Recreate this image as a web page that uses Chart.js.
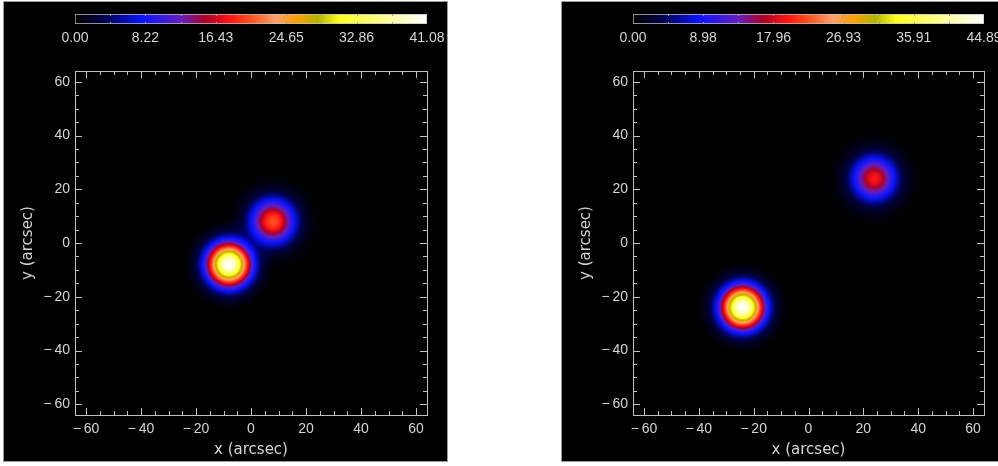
<!DOCTYPE html>
<html>
<head>
<meta charset="utf-8">
<script src="https://cdn.jsdelivr.net/npm/chart.js@4/dist/chart.umd.min.js"></script>
<style>
  body { margin: 0; width: 998px; height: 466px; overflow: hidden; background: #fff; position: relative; }
  .panel { position: absolute; top: 1px; height: 459px; background: #000; border: 1px solid #9a9a9a; }
  canvas { position: absolute; top: 0; }
</style>
</head>
<body>
<div class="panel" style="left:3px; width:443px;"></div>
<div class="panel" style="left:561px; width:460px;"></div>
<canvas id="map1" width="499" height="466" style="left:0"></canvas>
<canvas id="map2" width="520" height="466" style="left:499px"></canvas>
<canvas id="bar1" width="499" height="60" style="left:0"></canvas>
<canvas id="bar2" width="520" height="60" style="left:499px"></canvas>
<script>
// 축 눈금 (arcsec)
const axisTicks = [-60, -40, -20, 0, 20, 40, 60];
const axisMin = -64, axisMax = 64;

// 왼쪽 그림: 광원 위치, 최대값, 폭(sigma, arcsec)
const srcX1 = [-8, 8];
const srcY1 = [-8, 8];
const peak1 = [41.08, 20.5];
const sigma1 = [5.3, 5.6];
const barTicks1 = [0.00, 8.22, 16.43, 24.65, 32.86, 41.08];

// 오른쪽 그림
const srcX2 = [-24, 24];
const srcY2 = [-24, 24];
const peak2 = [44.89, 19.7];
const sigma2 = [5.3, 5.6];
const barTicks2 = [0.00, 8.98, 17.96, 26.93, 35.91, 44.89];

// 컬러 테이블 (black - blue - red - yellow - white)
const cmapStops = [
  [0.00, [0, 0, 0]],
  [0.08, [0, 0, 70]],
  [0.19, [10, 20, 255]],
  [0.30, [100, 30, 190]],
  [0.37, [170, 0, 40]],
  [0.44, [255, 20, 20]],
  [0.50, [255, 80, 30]],
  [0.57, [255, 160, 110]],
  [0.63, [255, 160, 0]],
  [0.69, [180, 180, 0]],
  [0.75, [255, 255, 30]],
  [0.87, [255, 255, 140]],
  [1.00, [255, 255, 255]]
];

const textColor = '#d4d4d4';
const lineColor = '#c0c0c0';
const tickFont = { family: 'Liberation Sans', size: 14 };
const titleFont = { family: 'DejaVu Sans', size: 15 };

function cmap(f) {
  f = Math.max(0, Math.min(1, f));
  for (let i = 1; i < cmapStops.length; i++) {
    const [f1, c1] = cmapStops[i];
    const [f0, c0] = cmapStops[i - 1];
    if (f <= f1) {
      const t = (f - f0) / (f1 - f0);
      const c = c0.map((v, k) => Math.round(v + (c1[k] - v) * t));
      return 'rgb(' + c.join(',') + ')';
    }
  }
  return 'rgb(255,255,255)';
}

function fmt(v) {
  return v < 0 ? '\u2212\u2009' + Math.abs(v) : String(v);
}

function pxPerUnit(scale) {
  return Math.abs(scale.getPixelForValue(1) - scale.getPixelForValue(0));
}

// 박스 테두리와 안쪽 눈금
const frame = {
  id: 'frame',
  beforeDatasetsDraw(chart) {
    chart.ctx.save();
    chart.ctx.globalCompositeOperation = 'lighter';
  },
  afterDatasetsDraw(chart) {
    chart.ctx.restore();
  },
  afterDraw(chart) {
    const { ctx, chartArea: a, scales: { x, y } } = chart;
    ctx.save();
    ctx.strokeStyle = lineColor;
    ctx.lineWidth = 1;
    ctx.strokeRect(Math.round(a.left) + 0.5, Math.round(a.top) + 0.5,
      Math.round(a.right - a.left), Math.round(a.bottom - a.top));
    ctx.beginPath();
    for (let v = -60; v <= 60; v += 5) {
      const len = v % 20 === 0 ? 7 : 4;
      const px = Math.round(x.getPixelForValue(v)) + 0.5;
      ctx.moveTo(px, a.bottom); ctx.lineTo(px, a.bottom - len);
      ctx.moveTo(px, a.top); ctx.lineTo(px, a.top + len);
      const py = Math.round(y.getPixelForValue(v)) + 0.5;
      ctx.moveTo(a.left, py); ctx.lineTo(a.left + len, py);
      ctx.moveTo(a.right, py); ctx.lineTo(a.right - len, py);
    }
    ctx.stroke();
    ctx.restore();
  }
};

function makeMap(id, xs, ys, peaks, sigmas, vmax, padLeft, padRight) {
  const pts = xs.map((x, i) => ({ x: x, y: ys[i], peak: peaks[i], sigma: sigmas[i] }));
  const radius = (c) => {
    const s = c.chart.scales.x;
    if (!s || !c.raw) return 0;
    const r = 3 * c.raw.sigma * pxPerUnit(s);
    return isFinite(r) ? r : 0;
  };
  new Chart(document.getElementById(id), {
    type: 'scatter',
    data: {
      datasets: [{
        data: pts,
        borderWidth: 0,
        pointRadius: radius,
        pointHoverRadius: radius,
        backgroundColor: (c) => {
          const chart = c.chart;
          if (!chart.chartArea || !c.raw) return 'black';
          const cx = chart.scales.x.getPixelForValue(c.raw.x);
          const cy = chart.scales.y.getPixelForValue(c.raw.y);
          const R = radius(c);
          if (!isFinite(cx) || !isFinite(cy) || R <= 0) return 'black';
          const g = chart.ctx.createRadialGradient(cx, cy, 0, cx, cy, R);
          const n = 40;
          for (let k = 0; k <= n; k++) {
            const t = k / n;
            const v = c.raw.peak * Math.exp(-(3 * t) * (3 * t) / 2);
            g.addColorStop(t, cmap(v / vmax));
          }
          return g;
        }
      }]
    },
    options: {
      responsive: false,
      animation: false,
      events: [],
      layout: { padding: { left: padLeft, right: padRight, top: 71, bottom: 0 } },
      plugins: { legend: { display: false }, tooltip: { enabled: false } },
      scales: {
        x: {
          type: 'linear', min: axisMin, max: axisMax,
          grid: { display: false, drawTicks: false }, border: { display: false },
          afterBuildTicks: (s) => { s.ticks = axisTicks.map(v => ({ value: v })); },
          afterFit: (s) => { s.height = 51; },
          ticks: { color: textColor, font: tickFont, padding: 6, maxRotation: 0, callback: fmt },
          title: { display: true, text: 'x (arcsec)', color: textColor, font: titleFont, padding: { top: 0, bottom: 7 } }
        },
        y: {
          type: 'linear', min: axisMin, max: axisMax,
          grid: { display: false, drawTicks: false }, border: { display: false },
          afterBuildTicks: (s) => { s.ticks = axisTicks.map(v => ({ value: v })); },
          afterFit: (s) => { s.width = 75; },
          ticks: { color: textColor, font: tickFont, padding: 5, callback: fmt },
          title: { display: true, text: 'y (arcsec)', color: textColor, font: titleFont, padding: { top: 19, bottom: 0 } }
        }
      }
    },
    plugins: [frame]
  });
}

// 컬러바 눈금
const barTicksPlugin = {
  id: 'barTicks',
  afterDraw(chart) {
    const { ctx, chartArea: a, scales: { x } } = chart;
    const vmax = x.max;
    ctx.save();
    ctx.strokeStyle = '#9a9a9a';
    ctx.lineWidth = 1;
    ctx.beginPath();
    for (let i = 1; i < 10; i++) {
      const px = Math.round(x.getPixelForValue(vmax * i / 10)) + 0.5;
      ctx.moveTo(px, a.top); ctx.lineTo(px, a.top + 2);
      ctx.moveTo(px, a.bottom); ctx.lineTo(px, a.bottom - 2);
    }
    ctx.stroke();
    ctx.restore();
  }
};

function makeBar(id, ticks, padLeft, padRight) {
  const vmax = ticks[ticks.length - 1];
  new Chart(document.getElementById(id), {
    type: 'bar',
    data: {
      labels: [''],
      datasets: [{
        data: [[0, vmax]],
        barPercentage: 1,
        categoryPercentage: 1,
        borderColor: lineColor,
        borderWidth: 1,
        borderSkipped: false,
        backgroundColor: (c) => {
          const chart = c.chart;
          if (!chart.chartArea) return 'black';
          const x0 = chart.scales.x.getPixelForValue(0);
          const x1 = chart.scales.x.getPixelForValue(vmax);
          const g = chart.ctx.createLinearGradient(x0, 0, x1, 0);
          cmapStops.forEach(([f, col]) => g.addColorStop(f, 'rgb(' + col.join(',') + ')'));
          return g;
        }
      }]
    },
    options: {
      indexAxis: 'y',
      responsive: false,
      animation: false,
      events: [],
      layout: { padding: { left: padLeft, right: padRight, top: 14, bottom: 0 } },
      plugins: { legend: { display: false }, tooltip: { enabled: false } },
      scales: {
        y: { display: false },
        x: {
          type: 'linear', min: 0, max: vmax,
          grid: { display: false, drawTicks: false }, border: { display: false },
          afterBuildTicks: (s) => { s.ticks = ticks.map(v => ({ value: v })); },
          afterFit: (s) => { s.height = 36; },
          ticks: { color: textColor, font: tickFont, padding: 6, maxRotation: 0, autoSkip: false,
            callback: (v) => Number(v).toFixed(2) }
        }
      }
    },
    plugins: [barTicksPlugin]
  });
}

makeMap('map1', srcX1, srcY1, peak1, sigma1, barTicks1[barTicks1.length - 1], 0, 72);
makeMap('map2', srcX2, srcY2, peak2, sigma2, barTicks2[barTicks2.length - 1], 59, 35);
makeBar('bar1', barTicks1, 75, 72);
makeBar('bar2', barTicks2, 134, 35);
</script>
</body>
</html>
